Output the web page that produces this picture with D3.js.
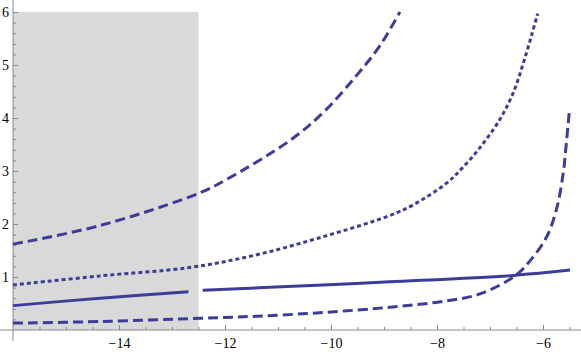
<!DOCTYPE html>
<html>
<head>
<meta charset="utf-8">
<script src="https://cdn.jsdelivr.net/npm/d3@7/dist/d3.min.js"></script>
<style>
  body { margin: 0; background: #fff; }
  svg { display: block; }
</style>
</head>
<body>
<main></main>
<script>
// values, [x, y]
var upperDashed = [[-16, 1.62], [-14.36, 1.97], [-12.47, 2.59], [-11.97, 2.84], [-10.77, 3.58],
  [-10.15, 4.10], [-9.52, 4.80], [-9.08, 5.36], [-8.70, 6.0]];
var dotted = [[-16, 0.85], [-14.36, 1.02], [-12.66, 1.18], [-11.40, 1.42], [-10.15, 1.76],
  [-8.89, 2.16], [-8.45, 2.36], [-7.82, 2.77], [-7.53, 3.05], [-7.19, 3.44], [-6.81, 3.98],
  [-6.56, 4.48], [-6.37, 5.04], [-6.21, 5.58], [-6.10, 5.97]];
var solidLeft = [[-16, 0.46], [-14.36, 0.60], [-12.69, 0.72]];
var solidRight = [[-12.42, 0.75], [-10.15, 0.85], [-8.89, 0.91], [-6.56, 1.03], [-5.49, 1.13]];
var lowerDashed = [[-16, 0.13], [-14.36, 0.16], [-12.47, 0.22], [-11.40, 0.26], [-10.15, 0.33],
  [-8.89, 0.43], [-7.82, 0.55], [-7.19, 0.68], [-6.53, 1.02], [-6.25, 1.30], [-5.93, 1.76],
  [-5.74, 2.30], [-5.62, 2.95], [-5.56, 3.52], [-5.50, 4.17]];

var shadeX = [-16, -12.5];
var shadeY = [0, 6];

var xMajor = [-14, -12, -10, -8, -6];
var yMajor = [1, 2, 3, 4, 5, 6];

var svg = d3.select("main").append("svg").attr("width", 581).attr("height", 354);

var x = d3.scaleLinear().domain([-16, -5]).range([13, 596]);
var y = d3.scaleLinear().domain([0, 6]).range([330, 12]);

var blue = "#3d3d99", axisGrey = "#8a8a8a";

// shaded region
svg.append("rect")
    .attr("x", x(shadeX[0]))
    .attr("y", y(shadeY[1]))
    .attr("width", x(shadeX[1]) - x(shadeX[0]))
    .attr("height", y(shadeY[0]) - y(shadeY[1]))
    .attr("fill", "#d9d9d9");

// axis lines
svg.append("line").attr("x1", 0).attr("x2", 581).attr("y1", y(0)).attr("y2", y(0))
    .attr("stroke", axisGrey).attr("stroke-width", 1);
svg.append("line").attr("x1", x(-16)).attr("x2", x(-16)).attr("y1", 0).attr("y2", 341)
    .attr("stroke", axisGrey).attr("stroke-width", 1);

var xMinor = d3.range(-15.5, -5.2, 0.5).filter(v => xMajor.indexOf(v) < 0);
var yMinor = d3.range(1, 30).map(i => i / 5).filter(v => Math.abs(v - Math.round(v)) > 1e-6);

function styleAxis(g) {
  g.select(".domain").remove();
  g.attr("font-family", "Liberation Serif").attr("font-size", 14);
  g.selectAll(".tick line").attr("stroke", axisGrey);
  g.selectAll(".tick text")
      .attr("font-family", "Liberation Serif")
      .attr("font-size", 14)
      .attr("fill", "#000");
}

svg.append("g").attr("transform", "translate(0," + y(0) + ")")
    .call(d3.axisBottom(x).tickValues(xMinor).tickSize(-3).tickFormat(""))
    .call(styleAxis);
svg.append("g").attr("transform", "translate(0," + y(0) + ")")
    .call(d3.axisBottom(x).tickValues(xMajor).tickSize(-5).tickPadding(8).tickFormat(d3.format("d")))
    .call(styleAxis);

svg.append("g").attr("transform", "translate(" + x(-16) + ",0)")
    .call(d3.axisLeft(y).tickValues(yMinor).tickSize(-3).tickFormat(""))
    .call(styleAxis);
svg.append("g").attr("transform", "translate(" + x(-16) + ",0)")
    .call(d3.axisLeft(y).tickValues(yMajor).tickSize(-5).tickPadding(4).tickFormat(d3.format("d")))
    .call(styleAxis);

var line = d3.line()
    .x(d => x(d[0]))
    .y(d => y(d[1]))
    .curve(d3.curveCatmullRom.alpha(0.5));

var curves = [
  {data: upperDashed, dash: "10,5"},
  {data: dotted, dash: "4,3"},
  {data: solidLeft, dash: null},
  {data: solidRight, dash: null},
  {data: lowerDashed, dash: "10,5"}
];

svg.append("g").selectAll("path")
    .data(curves)
  .enter().append("path")
    .attr("d", d => line(d.data))
    .attr("fill", "none")
    .attr("stroke", blue)
    .attr("stroke-width", 3)
    .attr("stroke-dasharray", d => d.dash);
</script>
</body>
</html>
